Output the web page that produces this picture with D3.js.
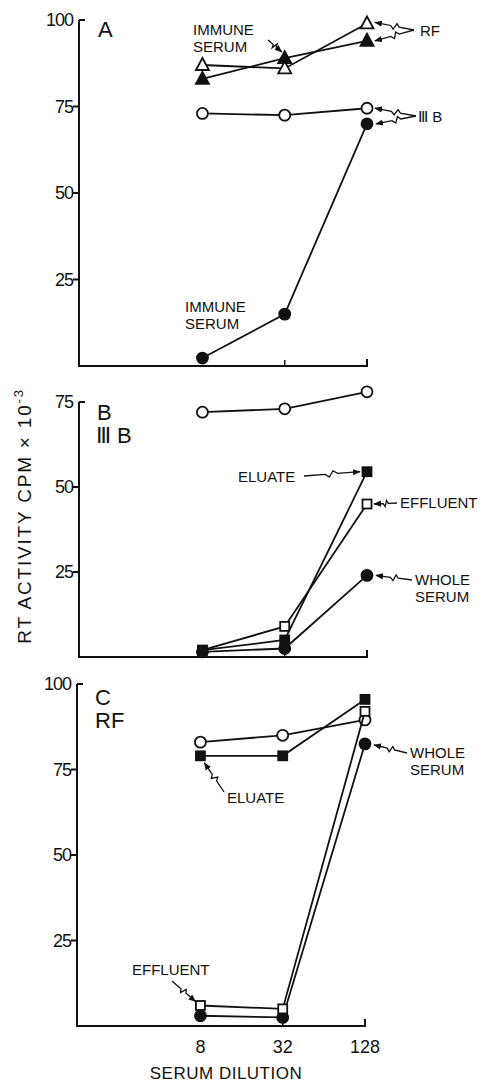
<!DOCTYPE html>
<html>
<head>
<meta charset="utf-8">
<script src="https://cdn.jsdelivr.net/npm/d3@7"></script>
<style>
  body { margin: 0; background: #fff; }
  svg text { font-family: "Liberation Sans", Arial, sans-serif; fill: #111; }
</style>
</head>
<body>
<div id="chart"></div>
<script>
// data (RT activity, cpm x 10^-3)
const dilutions = [8, 32, 128];
const xTickLabels = ["8", "32", "128"];

// panel A
const aRfControl = [87, 86, 99];
const aRfImmune = [83, 89, 94];
const aIIIBControl = [73, 72.5, 74.5];
const aIIIBImmune = [2.3, 15, 70];
// panel B (IIIB)
const bControl = [72, 73, 78];
const bEluate = [2, 5, 54.5];
const bEffluent = [2, 9, 45];
const bWhole = [1.5, 2.5, 24];
// panel C (RF)
const cControl = [83, 85, 89.5];
const cEluate = [79, 79, 95.5];
const cEffluent = [6, 5, 92];
const cWhole = [3, 2.5, 82.5];

const aTicks = [25, 50, 75, 100];
const bTicks = [25, 50, 75];
const cTicks = [25, 50, 75, 100];

var width = 491, height = 1082;

var svg = d3.select("#chart").append("svg")
  .attr("width", width)
  .attr("height", height);

svg.append("defs").append("marker")
  .attr("id", "arr")
  .attr("viewBox", "0 0 10 10")
  .attr("refX", 9).attr("refY", 5)
  .attr("markerWidth", 6).attr("markerHeight", 6)
  .attr("orient", "auto")
  .append("path")
  .attr("d", "M0,1 L10,5 L0,9 z")
  .attr("fill", "#111");

// panel setup
var panels = {
  A: { x: d3.scaleLog().base(2).domain([1, 128]).range([79, 367]),
       y: d3.scaleLinear().domain([0, 100]).range([366, 20]), ticks: aTicks, top: 100 },
  B: { x: d3.scaleLog().base(2).domain([1, 128]).range([79, 367]),
       y: d3.scaleLinear().domain([0, 75]).range([657, 402]), ticks: bTicks, top: 75 },
  C: { x: d3.scaleLog().base(2).domain([1, 128]).range([77, 365]),
       y: d3.scaleLinear().domain([0, 100]).range([1026, 684]), ticks: cTicks, top: 100 }
};

function drawAxes(p, showLabels) {
  var g = svg.append("g");
  var x0 = p.x.range()[0], x1 = p.x.range()[1];
  var yb = p.y(0), yt = p.y(p.top);
  g.append("path")
    .attr("d", "M" + x0 + "," + yt + " L" + x0 + "," + yb + " L" + x1 + "," + yb + " L" + x1 + "," + (yb - 7))
    .attr("fill", "none").attr("stroke", "#111").attr("stroke-width", 2);
  // top cap
  g.append("line").attr("x1", x0).attr("x2", x0 + 6).attr("y1", yt).attr("y2", yt)
    .attr("stroke", "#111").attr("stroke-width", 2);
  p.ticks.forEach(function (t) {
    if (t !== p.top) {
      g.append("line").attr("x1", x0 - 6).attr("x2", x0).attr("y1", p.y(t)).attr("y2", p.y(t))
        .attr("stroke", "#111").attr("stroke-width", 2);
    }
    g.append("text")
      .attr("x", x0 - 6).attr("y", p.y(t) + 6)
      .attr("text-anchor", "end")
      .attr("font-size", "18px")
      .attr("letter-spacing", "-1px")
      .text(t);
  });
  // x ticks
  g.append("line").attr("x1", p.x(32)).attr("x2", p.x(32)).attr("y1", yb).attr("y2", yb - 6)
    .attr("stroke", "#111").attr("stroke-width", 1.5);
  if (showLabels) {
    dilutions.forEach(function (d, i) {
      g.append("text")
        .attr("x", p.x(d)).attr("y", 1053)
        .attr("text-anchor", "middle")
        .attr("font-size", "18px")
        .text(xTickLabels[i]);
    });
  }
}

var line = function (p, vals) {
  return d3.line().x(function (d, i) { return p.x(dilutions[i]); })
    .y(function (d) { return p.y(d); })(vals);
};

function drawSeries(p, vals, shape) {
  svg.append("path").attr("d", line(p, vals))
    .attr("fill", "none").attr("stroke", "#111").attr("stroke-width", 1.8);
  vals.forEach(function (v, i) {
    var cx = p.x(dilutions[i]), cy = p.y(v);
    var filled = shape.indexOf("filled") === 0;
    var fill = filled ? "#111" : "#fff";
    if (shape.indexOf("circle") > -1) {
      svg.append("circle").attr("cx", cx).attr("cy", cy).attr("r", 5.5)
        .attr("fill", fill).attr("stroke", "#111").attr("stroke-width", 1.8);
    } else if (shape.indexOf("square") > -1) {
      svg.append("rect").attr("x", cx - 4.5).attr("y", cy - 4.5).attr("width", 9).attr("height", 9)
        .attr("fill", fill).attr("stroke", "#111").attr("stroke-width", 1.8);
    } else {
      svg.append("path")
        .attr("d", "M" + cx + "," + (cy - 7) + " L" + (cx + 6.5) + "," + (cy + 5) + " L" + (cx - 6.5) + "," + (cy + 5) + " Z")
        .attr("fill", fill).attr("stroke", "#111").attr("stroke-width", 1.8);
    }
  });
}

// squiggly pointer with arrowhead
function squiggle(x1, y1, x2, y2) {
  var dx = x2 - x1, dy = y2 - y1;
  var len = Math.sqrt(dx * dx + dy * dy);
  var nx = -dy / len * 3, ny = dx / len * 3;
  var pt = function (f, o) { return [x1 + dx * f + nx * o, y1 + dy * f + ny * o]; };
  var pts = [[x1, y1], pt(0.38, 0), pt(0.45, 1), pt(0.52, -1), pt(0.6, 0), [x2, y2]];
  svg.append("path")
    .attr("d", d3.line()(pts))
    .attr("fill", "none").attr("stroke", "#111").attr("stroke-width", 1.3)
    .attr("marker-end", "url(#arr)");
}

function label(x, y, lines, size) {
  lines.forEach(function (s, i) {
    svg.append("text").attr("x", x).attr("y", y + i * 17)
      .attr("font-size", size || "15px").text(s);
  });
}

// ---- Panel A
var A = panels.A;
drawAxes(A, false);
drawSeries(A, aRfControl, "open-triangle");
drawSeries(A, aRfImmune, "filled-triangle");
drawSeries(A, aIIIBControl, "open-circle");
drawSeries(A, aIIIBImmune, "filled-circle");
label(98, 37, ["A"], "22px");
label(193, 35, ["IMMUNE", "SERUM"]);
squiggle(268, 40, A.x(32) - 3, A.y(aRfImmune[1]) - 6);
label(185, 312, ["IMMUNE", "SERUM"]);
label(420, 36, ["RF"]);
squiggle(414, 30, A.x(128) + 8, A.y(aRfControl[2]) - 1);
squiggle(414, 30, A.x(128) + 8, A.y(aRfImmune[2]));
label(418, 122, ["Ⅲ B"]);
squiggle(416, 116, A.x(128) + 8, A.y(aIIIBControl[2]));
squiggle(416, 116, A.x(128) + 9, A.y(aIIIBImmune[2]));

// ---- Panel B
var B = panels.B;
drawAxes(B, false);
drawSeries(B, bControl, "open-circle");
drawSeries(B, bWhole, "filled-circle");
drawSeries(B, bEffluent, "open-square");
drawSeries(B, bEluate, "filled-square");
label(97, 420, ["B"], "22px");
label(96, 443, ["Ⅲ B"], "22px");
label(238, 482, ["ELUATE"]);
squiggle(304, 476, B.x(128) - 7, B.y(bEluate[2]));
label(400, 508, ["EFFLUENT"]);
squiggle(397, 503, B.x(128) + 7, B.y(bEffluent[2]));
label(415, 585, ["WHOLE", "SERUM"]);
squiggle(412, 580, B.x(128) + 9, B.y(bWhole[2]));

// ---- Panel C
var C = panels.C;
drawAxes(C, true);
drawSeries(C, cControl, "open-circle");
drawSeries(C, cEluate, "filled-square");
drawSeries(C, cWhole, "filled-circle");
drawSeries(C, cEffluent, "open-square");
label(95, 705, ["C"], "22px");
label(95, 728, ["RF"], "22px");
label(410, 758, ["WHOLE", "SERUM"]);
squiggle(407, 753, C.x(128) + 9, C.y(cWhole[2]) + 1);
label(227, 803, ["ELUATE"]);
squiggle(224, 792, C.x(8) + 4, C.y(cEluate[0]) + 7);
label(132, 975, ["EFFLUENT"]);
squiggle(172, 981, C.x(8) - 5, C.y(cEffluent[0]) - 4);

// axis titles
svg.append("text")
  .attr("x", 226).attr("y", 1079)
  .attr("text-anchor", "middle")
  .attr("font-size", "17px")
  .attr("letter-spacing", "0.5px")
  .text("SERUM DILUTION");

var yl = svg.append("text")
  .attr("transform", "translate(31,516) rotate(-90)")
  .attr("text-anchor", "middle")
  .attr("font-size", "19px")
  .attr("letter-spacing", "1.8px");
yl.append("tspan").text("RT ACTIVITY  CPM × 10");
yl.append("tspan").attr("font-size", "13px").attr("dy", "-8").text("-3");
</script>
</body>
</html>
